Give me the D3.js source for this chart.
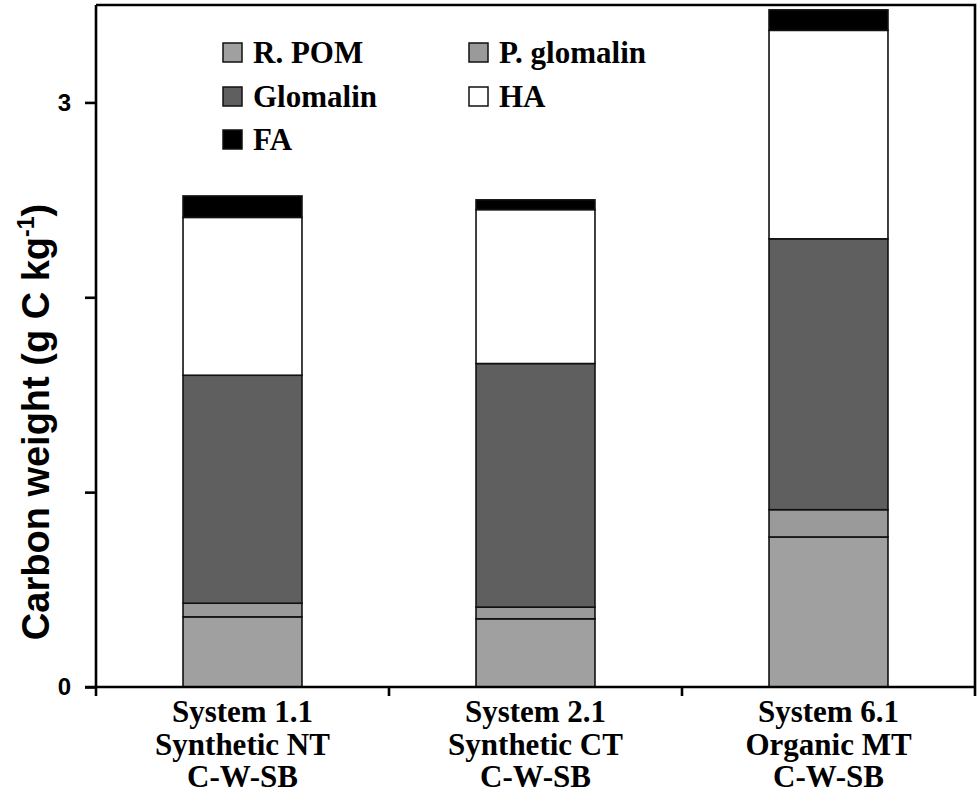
<!DOCTYPE html>
<html>
<head>
<meta charset="utf-8">
<script src="https://cdn.jsdelivr.net/npm/d3@7"></script>
<style>
  html, body { margin: 0; padding: 0; background: #fff; }
  svg { display: block; }
</style>
</head>
<body>
<svg id="chart" width="980" height="803"></svg>
<script>
// Carbon fractions per cropping system (g C kg-1), stacked bottom to top
const systems = ["System 1.1", "System 2.1", "System 6.1"];
const systemLines = [
  ["System 1.1", "Synthetic NT", "C-W-SB"],
  ["System 2.1", "Synthetic CT", "C-W-SB"],
  ["System 6.1", "Organic MT", "C-W-SB"]
];
const fractions = ["R. POM", "P. glomalin", "Glomalin", "HA", "FA"];
const rPOM       = [0.36, 0.35, 0.77];
const pGlomalin  = [0.07, 0.06, 0.14];
const glomalin   = [1.17, 1.25, 1.39];
const ha         = [0.81, 0.79, 1.07];
const fa         = [0.11, 0.05, 0.105];
const fillColors = ["#a0a0a0", "#9a9a9a", "#5f5f5f", "#ffffff", "#000000"];
const yTickValues = [0, 1, 2, 3];
const yTickLabels = ["0", "", "", "3"];
const yMax = 3.5;

const rows = systems.map((s, i) => ({
  system: s,
  "R. POM": rPOM[i],
  "P. glomalin": pGlomalin[i],
  "Glomalin": glomalin[i],
  "HA": ha[i],
  "FA": fa[i]
}));

const svg = d3.select("#chart");
const plot = { left: 96, right: 975, top: 5, bottom: 687 };
const serif = "'Liberation Serif', 'Times New Roman', serif";
const sans = "'Liberation Sans', Arial, sans-serif";

const y = d3.scaleLinear().domain([0, yMax]).range([plot.bottom, plot.top]);
const xOuter = d3.scaleBand().domain(systems).range([plot.left, plot.right]);
const x = d3.scaleBand().domain(systems).range([plot.left, plot.right])
  .paddingInner(0.594).paddingOuter(0.297);
const color = d3.scaleOrdinal().domain(fractions).range(fillColors);

const stack = d3.stack().keys(fractions)(rows);

// stacked bars
svg.append("g")
  .selectAll("g")
  .data(stack)
  .join("g")
  .attr("fill", d => color(d.key))
  .selectAll("rect")
  .data(d => d)
  .join("rect")
  .attr("x", d => x(d.data.system))
  .attr("width", x.bandwidth())
  .attr("y", d => y(d[1]))
  .attr("height", d => y(d[0]) - y(d[1]))
  .attr("stroke", "#111")
  .attr("stroke-width", 1.6);

// frame: top and right borders
const axisColor = "#000";
const axisW = 2.6;
svg.append("path")
  .attr("d", `M${plot.left},${plot.top}H${plot.right}V${plot.bottom}`)
  .attr("fill", "none").attr("stroke", axisColor).attr("stroke-width", axisW);

// y axis
const yAxis = svg.append("g")
  .attr("transform", `translate(${plot.left},0)`)
  .call(d3.axisLeft(y).tickValues(yTickValues).tickSize(11).tickSizeOuter(0)
    .tickPadding(14).tickFormat((d, i) => yTickLabels[i]));
yAxis.select(".domain").remove();
yAxis.selectAll(".tick line").attr("stroke", axisColor).attr("stroke-width", axisW);
yAxis.selectAll(".tick text")
  .attr("font-family", sans).attr("font-weight", "bold").attr("font-size", 24)
  .attr("fill", "#000");
svg.append("line")
  .attr("x1", plot.left).attr("x2", plot.left)
  .attr("y1", plot.top).attr("y2", plot.bottom)
  .attr("stroke", axisColor).attr("stroke-width", axisW);

// x axis line and category boundary ticks
svg.append("line")
  .attr("x1", plot.left - 11).attr("x2", plot.right)
  .attr("y1", plot.bottom).attr("y2", plot.bottom)
  .attr("stroke", axisColor).attr("stroke-width", axisW);
const boundaries = systems.map(s => xOuter(s)).concat([xOuter.range()[1]]);
svg.append("g").selectAll("line")
  .data(boundaries)
  .join("line")
  .attr("x1", d => d).attr("x2", d => d)
  .attr("y1", plot.bottom).attr("y2", plot.bottom + 9)
  .attr("stroke", axisColor).attr("stroke-width", axisW);

// category labels
const xl = svg.append("g");
systemLines.forEach((lines, i) => {
  const cx = xOuter(systems[i]) + xOuter.bandwidth() / 2;
  xl.append("text")
    .attr("x", cx).attr("y", 722)
    .attr("text-anchor", "middle")
    .attr("font-family", serif).attr("font-weight", "bold").attr("font-size", 31)
    .selectAll("tspan")
    .data(lines)
    .join("tspan")
    .attr("x", cx)
    .attr("dy", (d, j) => j === 0 ? 0 : 32.5)
    .text(d => d);
});

// y axis title
const yt = svg.append("text")
  .attr("transform", "translate(49,422) rotate(-90)")
  .attr("text-anchor", "middle")
  .attr("font-family", sans).attr("font-weight", "bold").attr("font-size", 38);
yt.append("tspan").text("Carbon weight (g C kg");
yt.append("tspan").attr("font-size", 23).attr("dy", -15).text("-1");
yt.append("tspan").attr("dy", 15).text(")");

// legend
const legendCols = [223, 469];
const legendRows = [53, 97, 140];
const legend = svg.append("g");
fractions.forEach((f, i) => {
  const lx = legendCols[i % 2];
  const ly = legendRows[Math.floor(i / 2)];
  legend.append("rect")
    .attr("x", lx).attr("y", ly - 10)
    .attr("width", 19).attr("height", 19)
    .attr("fill", color(f))
    .attr("stroke", "#111").attr("stroke-width", 1.5);
  legend.append("text")
    .attr("x", lx + 30).attr("y", ly + 10)
    .attr("font-family", serif).attr("font-weight", "bold").attr("font-size", 31)
    .text(f);
});
</script>
</body>
</html>
